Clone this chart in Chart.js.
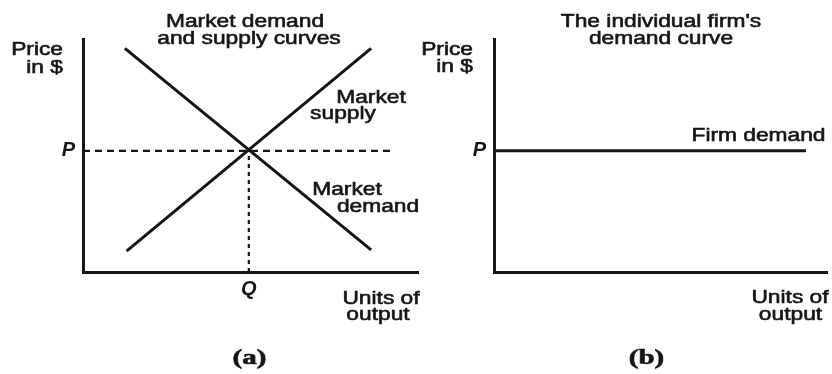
<!DOCTYPE html>
<html>
<head>
<meta charset="utf-8">
<script src="https://cdn.jsdelivr.net/npm/chart.js@4.4.1/dist/chart.umd.min.js"></script>
<style>
  html, body { margin: 0; padding: 0; background: #fff; }
  body { position: relative; width: 832px; height: 374px; overflow: hidden; }
  canvas { position: absolute; top: 0; }
  #marketChart { left: 0; }
  #firmChart { left: 416px; }
</style>
</head>
<body>
<canvas id="marketChart" width="430" height="374"></canvas>
<canvas id="firmChart" width="416" height="374"></canvas>
<script>
// where the market curves cross
const priceLevel = 5.2;
const quantityLevel = 4.95;

// market curves (x = units of output, y = price)
const demandX = [1.25, 8.6];
const demandY = [9.6, 0.95];
const supplyX = [1.3, 8.6];
const supplyY = [0.9, 9.6];
const priceGuideX = [0, 9.25];
const firmDemandX = [0, 9.37];

const priceTickLabel = 'P';
const quantityTickLabel = 'Q';
const marketTitle = ['Market demand', 'and supply curves'];
const firmTitle = ["The individual firm's", 'demand curve'];
const priceAxisTitle = ['Price', 'in $'];
const outputAxisTitle = ['Units of', 'output'];
const supplyLabel = ['Market', 'supply'];
const demandLabel = ['Market', 'demand'];
const firmDemandLabel = 'Firm demand';
const panelLabels = ['(a)', '(b)'];

const INK = '#151515';
const SANS = '18.5px "Liberation Sans", Arial, sans-serif';
const SERIF = 'bold 21px "Liberation Serif", "Times New Roman", serif';
const tickFont = { family: 'Liberation Sans', size: 20, style: 'italic', weight: 'bold' };

// the scan is stretched sideways and a bit heavy, so text is widened and thickened
const notesPlugin = {
  id: 'notes',
  afterDraw(chart, args, opts) {
    const ctx = chart.ctx;
    ctx.save();
    ctx.fillStyle = INK;
    ctx.strokeStyle = INK;
    ctx.lineWidth = 0.6;
    ctx.textBaseline = 'alphabetic';
    opts.items.forEach(n => {
      ctx.save();
      ctx.font = n.font || SANS;
      ctx.textAlign = n.align || 'center';
      ctx.translate(n.x, n.y);
      ctx.scale(n.stretch || 1.23, 1);
      ctx.fillText(n.text, 0, 0);
      ctx.strokeText(n.text, 0, 0);
      ctx.restore();
    });
    ctx.restore();
  }
};

function line(label, xs, ys, width, dash) {
  return {
    label,
    data: xs.map((x, i) => ({ x, y: ys[i] })),
    showLine: true,
    pointRadius: 0,
    borderColor: INK,
    borderWidth: width,
    borderDash: dash || [],
    fill: false
  };
}

function axes(yWidth, priceTicks, quantityTicks) {
  const common = {
    type: 'linear', min: 0, max: 10,
    grid: { display: false, drawTicks: false, tickLength: 0 },
    border: { display: true, color: INK, width: 3 }
  };
  return {
    x: {
      ...common,
      afterBuildTicks: s => { s.ticks = quantityTicks.map(v => ({ value: v })); },
      afterFit: s => { s.height = 30; },
      ticks: { callback: () => quantityTickLabel, color: INK, font: tickFont, padding: 5, autoSkip: false, maxRotation: 0 }
    },
    y: {
      ...common,
      afterBuildTicks: s => { s.ticks = priceTicks.map(v => ({ value: v })); },
      afterFit: s => { s.width = yWidth; },
      ticks: { callback: () => priceTickLabel, color: INK, font: tickFont, padding: 8, autoSkip: false }
    }
  };
}

new Chart(document.getElementById('marketChart'), {
  type: 'scatter',
  data: {
    datasets: [
      line('Market demand', demandX, demandY, 3),
      line('Market supply', supplyX, supplyY, 3),
      line('P', priceGuideX, priceGuideX.map(() => priceLevel), 2.2, [7, 5]),
      line('Q', [quantityLevel, quantityLevel], [0, priceLevel], 2.2, [4, 4])
    ]
  },
  options: {
    responsive: false,
    animation: false,
    layout: { padding: { top: 39, right: 12, bottom: 72, left: 0 } },
    scales: axes(83, [priceLevel], [quantityLevel]),
    plugins: {
      legend: { display: false },
      tooltip: { enabled: false },
      notes: {
        items: [
          { text: marketTitle[0], x: 245, y: 27 },
          { text: marketTitle[1], x: 249, y: 44 },
          { text: priceAxisTitle[0], x: 63, y: 55, align: 'right' },
          { text: priceAxisTitle[1], x: 63, y: 73, align: 'right' },
          { text: supplyLabel[0], x: 371, y: 103 },
          { text: supplyLabel[1], x: 343, y: 119 },
          { text: demandLabel[0], x: 347, y: 195 },
          { text: demandLabel[1], x: 378, y: 212 },
          { text: outputAxisTitle[0], x: 381, y: 304 },
          { text: outputAxisTitle[1], x: 378, y: 320 },
          { text: panelLabels[0], x: 249.5, y: 364, font: SERIF, stretch: 1.38 }
        ]
      }
    }
  },
  plugins: [notesPlugin]
});

new Chart(document.getElementById('firmChart'), {
  type: 'scatter',
  data: {
    datasets: [
      line('Firm demand', firmDemandX, firmDemandX.map(() => priceLevel), 3)
    ]
  },
  options: {
    responsive: false,
    animation: false,
    layout: { padding: { top: 39, right: 5, bottom: 72, left: 0 } },
    scales: axes(78, [priceLevel], []),
    plugins: {
      legend: { display: false },
      tooltip: { enabled: false },
      notes: {
        items: [
          { text: firmTitle[0], x: 245, y: 27 },
          { text: firmTitle[1], x: 245, y: 44 },
          { text: priceAxisTitle[0], x: 57, y: 55, align: 'right' },
          { text: priceAxisTitle[1], x: 57, y: 72, align: 'right' },
          { text: firmDemandLabel, x: 342.5, y: 141 },
          { text: outputAxisTitle[0], x: 374, y: 303 },
          { text: outputAxisTitle[1], x: 374.5, y: 320 },
          { text: panelLabels[1], x: 230.5, y: 364, font: SERIF, stretch: 1.38 }
        ]
      }
    }
  },
  plugins: [notesPlugin]
});
</script>
</body>
</html>
